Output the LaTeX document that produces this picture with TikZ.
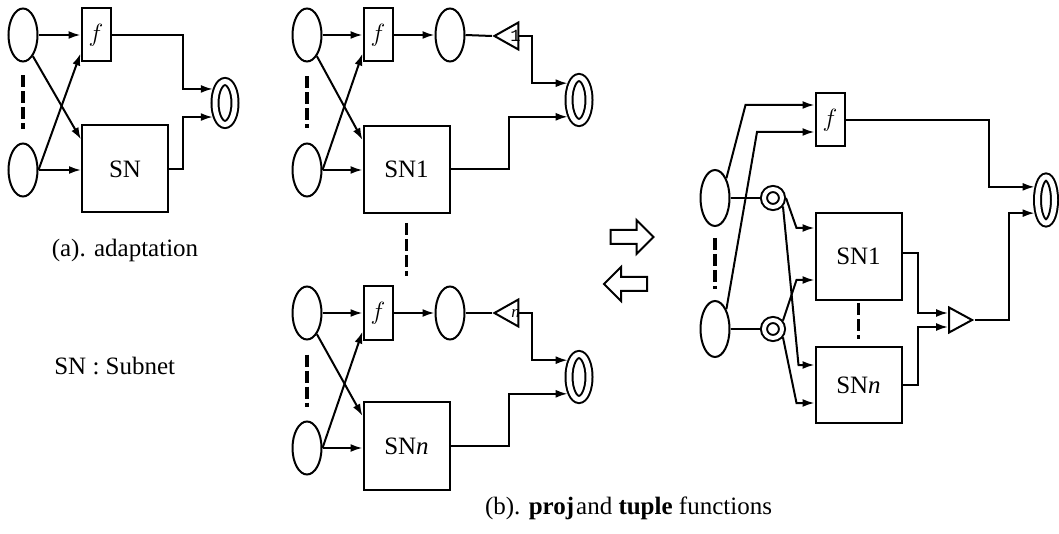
\documentclass[tikz,border=0pt]{standalone}
\usepackage{fontspec}
\setmainfont{Liberation Serif}
\newfontfamily\trifont{Liberation Mono}
\usetikzlibrary{positioning,arrows.meta,shapes.geometric,shapes.arrows}

\begin{document}
\begin{tikzpicture}[
  x=1pt, y=-1pt,
  font=\fontsize{25}{30}\selectfont,
  line width=2pt,
  place/.style={draw, ellipse, minimum width=29pt, minimum height=53pt, inner sep=0pt},
  trans/.style={draw, rectangle, minimum width=29pt, minimum height=53pt, inner sep=0pt},
  subnet/.style={draw, rectangle, minimum width=86pt, minimum height=87pt, inner sep=0pt},
  ring/.style={draw, ellipse, double, double distance=5pt, outer sep=4.5pt, minimum width=20pt, minimum height=45pt, inner sep=0pt},
  smallring/.style={ring, double distance=4pt, outer sep=4pt, minimum width=18pt, minimum height=18pt},
  tri/.style={draw, isosceles triangle, isosceles triangle stretches, minimum width=27pt, minimum height=24pt, inner sep=0pt},
  trilabel/.style={font=\fontsize{17}{20}\selectfont, inner sep=0pt},
  bigarrow/.style={draw, single arrow, single arrow head extend=10pt, inner xsep=0pt, inner ysep=6pt, minimum height=43pt},
  etc/.style={line width=3.5pt, dash pattern=on 12pt off 4pt},
  arr/.style={-{Latex[length=12pt,width=8pt]}}
]
\useasboundingbox (0,0) rectangle (1059,534);

\node[place] (a1) at (23,35) {};
\node[place] (a2) at (23,170) {};
\node[trans] (af) at (96,35) {$f$};
\node[subnet] (asn) at (125,169) {SN};
\node[ring, minimum height=43pt] (aout) at (225,103) {};
\draw[etc] ([yshift=-13pt]a1.south) -- ([yshift=13pt]a2.north);
\draw[arr] (a1.east) -- (af.west);
\draw[arr] (a2.east) -- (a2.east -| asn.west);
\draw[arr] (a1.-65) -- ([yshift=-15pt]asn.north west);
\draw[arr] (a2.east) -- ([yshift=9pt]af.south west);
\draw[arr] (af.east) -- ++(71,0) |- (aout.131);
\draw[arr] (asn.east) -- ++(14,0) |- (aout.229);
\node (capa) at (125,250) {(a). adaptation};
\node[anchor=west] (legend) at (50,366) {SN : Subnet};

\node[place] (b1) at (307,35) {};
\node[place] (b2) at (307,170) {};
\node[trans] (bf) at (378,35) {$f$};
\node[subnet] (bsn1) at (406.5,169.5) {SN1};
\node[place] (bmid) at (450,35) {};
\node[tri, shape border rotate=180] (bt1) at (510.5,36) {};
\node[trilabel] (bt1l) at ([xshift=5pt]bt1.center) {\trifont 1};
\node[ring] (bout1) at (579,100) {};
\draw[etc] ([yshift=-14pt]b1.south) -- ([yshift=14pt]b2.north);
\draw[arr] (b1.east) -- (bf.west);
\draw[arr] (b2.east) -- (b2.east -| bsn1.west);
\draw[arr] (b1.-65) -- ([yshift=-15pt]bsn1.north west);
\draw[arr] (b2.east) -- ([yshift=9pt]bf.south west);
\draw[arr] (bf.east) -- (bmid.west);
\draw (bmid.east) -- (bt1.apex);
\draw[arr] (bt1.east) -- ++(13,0) |- (bout1.124);
\draw[arr] (bsn1.east) -- ++(58,0) |- (bout1.236);

\node[place] (c1) at (307,313) {};
\node[place] (c2) at (307,448) {};
\node[trans] (cf) at (378,313) {$f$};
\node[subnet, minimum height=88pt] (csn) at (406.5,446) {SN\textit{n}};
\node[place] (cmid) at (450,313) {};
\node[tri, shape border rotate=180] (ct) at (510.5,313) {};
\node[trilabel] (ctl) at ([xshift=5pt]ct.center) {\textit{n}};
\node[ring] (cout) at (579,377) {};
\draw[etc] ([yshift=-9pt]bsn1.south) -- ([yshift=9pt]bsn1.south |- cf.north);
\draw[etc] ([yshift=-14pt]c1.south) -- ([yshift=14pt]c2.north);
\draw[arr] (c1.east) -- (cf.west);
\draw[arr] (c2.east) -- (c2.east -| csn.west);
\draw[arr] (c1.-65) -- ([yshift=-15pt]csn.north west);
\draw[arr] (c2.east) -- ([yshift=9pt]cf.south west);
\draw[arr] (cf.east) -- (cmid.west);
\draw (cmid.east) -- (ct.apex);
\draw[arr] (ct.east) -- ++(13,0) |- (cout.124);
\draw[arr] (csn.east) -- ++(58,0) |- (cout.236);

\node[bigarrow] (fwd) at (628.5,237) {};
\node[bigarrow, shape border rotate=180] (bwd) at (629,284) {};

\node[place, minimum height=56pt] (r1) at (715,198) {};
\node[place, minimum height=56pt] (r2) at (715,329) {};
\node[trans] (rf) at (830,120) {$f$};
\node[smallring] (rr1) at (773,198) {};
\node[smallring] (rr2) at (773,329) {};
\node[subnet] (rsn1) at (858.5,256.5) {SN1};
\node[subnet, minimum height=76pt] (rsnn) at (858.5,385) {SN\textit{n}};
\node[tri, minimum width=25pt, minimum height=23pt] (rtri) at (956.5,320) {};
\node[ring, minimum width=17pt, minimum height=46pt] (rout) at (1046,200) {};
\draw[etc] ([yshift=-11pt]r1.south) -- ([yshift=11pt]r2.north);
\draw[etc] ([yshift=-2pt]rsn1.south) -- ([yshift=7pt]rsnn.north);
\draw[arr] (r1.60) -- ([xshift=-69pt,yshift=15pt]rf.west) -- ([yshift=15pt]rf.west);
\draw[arr] (r2.60) -- ([xshift=-57.5pt,yshift=-12pt]rf.west) -- ([yshift=-12pt]rf.west);
\draw (r1.east) -- (rr1.west);
\draw (r2.east) -- (rr2.west);
\draw[arr] (rr1.east) -- ([xshift=-18pt,yshift=28.5pt]rsn1.west) -- ([yshift=28.5pt]rsn1.west);
\draw[arr] (rr1.-40) -- ([xshift=-16pt,yshift=20pt]rsnn.west) -- ([yshift=20pt]rsnn.west);
\draw[arr] (rr2.40) -- ([xshift=-18pt,yshift=-23.5pt]rsn1.west) -- ([yshift=-23.5pt]rsn1.west);
\draw[arr] (rr2.-40) -- ([xshift=-18pt,yshift=-18pt]rsnn.west) -- ([yshift=-18pt]rsnn.west);
\draw[arr] ([yshift=3.5pt]rsn1.east) -- ++(15,0) |- ([yshift=7pt]rtri.west);
\draw[arr] (rsnn.east) -- ++(15,0) |- ([yshift=-7pt]rtri.west);
\draw[arr] (rtri.apex) -- ++(34,0) |- (rout.229);
\draw[arr] (rf.east) -- ++(143.5,0) |- (rout.131);

\node (capb) at (628.5,508) {(b). \textbf{proj}\hspace{2pt}and \textbf{tuple} functions};
\end{tikzpicture}
\end{document}
